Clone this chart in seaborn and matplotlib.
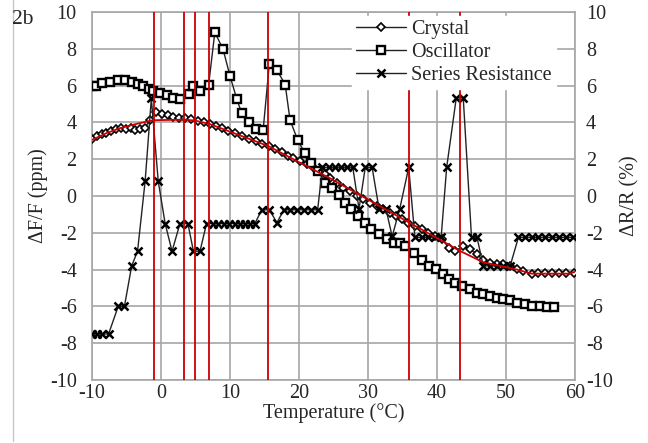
import numpy as np
import pandas as pd
import matplotlib
matplotlib.use("Agg")
import matplotlib.pyplot as plt
from matplotlib.lines import Line2D
import seaborn as sns

# crystal frequency deviation (ppm)
crystal_T = [-10.0, -9.3, -8.6, -7.9, -7.2, -6.5, -5.8, -5.1, -4.4, -3.7, -3.0, -2.3,
             -1.6, -0.7, 0.2, 1.0, 1.8, 2.6, 3.5, 4.4, 5.3, 6.2, 7.1, 8.0, 8.8, 9.7,
             10.7, 11.7, 12.7, 13.7, 14.6, 15.6, 16.5, 17.5, 18.4, 19.2, 20.1, 21.1,
             22.0, 22.8, 23.8, 24.5, 25.5, 26.4, 27.4, 28.4, 29.3, 30.3, 31.3, 32.2,
             33.2, 34.0, 34.9, 35.8, 36.8, 37.8, 38.7, 39.7, 40.7, 41.7, 42.6, 43.8,
             44.8, 45.8, 46.7, 47.7, 48.7, 49.6, 50.6, 51.6, 52.5, 53.7, 54.7, 55.7,
             56.7, 57.7, 58.7, 59.8]
crystal_ppm = [3.10, 3.25, 3.35, 3.45, 3.55, 3.62, 3.70, 3.62, 3.68, 3.58, 3.62, 3.70,
               4.15, 4.55, 4.45, 4.38, 4.30, 4.25, 4.25, 4.17, 4.08, 4.00, 3.92, 3.82,
               3.70, 3.55, 3.40, 3.28, 3.10, 3.00, 2.82, 2.72, 2.55, 2.38, 2.20, 2.08,
               1.92, 1.72, 1.55, 1.38, 1.18, 1.00, 0.70, 0.45, 0.27, 0.02, -0.18, -0.36,
               -0.54, -0.72, -0.90, -1.09, -1.27, -1.45, -1.63, -1.81, -1.99, -2.17,
               -2.35, -2.80, -2.99, -2.72, -2.90, -3.17, -3.50, -3.62, -3.70, -3.72,
               -3.82, -3.99, -4.08, -4.25, -4.17, -4.20, -4.20, -4.20, -4.20, -4.17]

# oscillator frequency deviation (ppm)
osc_T = [-10.0, -9.4, -8.6, -7.4, -6.2, -5.2, -4.2, -3.3, -2.6, -1.8, -1.1, -0.1, 0.8,
         1.8, 2.8, 4.0, 4.7, 5.7, 6.9, 7.8, 9.0, 10.0, 11.0, 11.7, 12.8, 13.8, 14.8,
         15.7, 16.8, 18.0, 18.7, 19.8, 20.8, 21.7, 22.8, 23.8, 24.8, 25.8, 26.7, 27.5,
         28.6, 29.5, 30.5, 31.6, 32.7, 33.7, 34.6, 35.4, 36.6, 37.8, 38.8, 39.8, 40.8,
         41.7, 42.6, 43.6, 44.8, 45.8, 46.7, 47.7, 48.7, 49.6, 50.6, 51.6, 52.8, 53.8,
         54.9, 55.9, 57.0]
osc_ppm = [6.0, 6.0, 6.12, 6.2, 6.3, 6.3, 6.2, 6.07, 5.98, 5.8, 5.7, 5.58, 5.47, 5.34,
           5.25, 5.53, 5.98, 5.7, 6.03, 8.9, 7.97, 6.52, 5.25, 4.5, 4.02, 3.62, 3.57,
           7.19, 6.85, 6.05, 4.13, 3.05, 2.36, 1.81, 1.35, 0.72, 0.45, 0.05, -0.36,
           -0.72, -1.09, -1.45, -1.81, -2.08, -2.35, -2.54, -2.54, -2.72, -3.08, -3.5,
           -3.8, -3.99, -4.26, -4.53, -4.71, -4.89, -5.07, -5.25, -5.34, -5.43, -5.53,
           -5.62, -5.67, -5.8, -5.89, -5.98, -5.98, -6.03, -6.03]

# series resistance deviation (%)
res_T = [-10.0, -9.3, -8.5, -7.6, -6.2, -5.3, -4.25, -3.4, -2.3, -1.4, -0.4, 0.6, 1.6,
         2.75, 3.9, 4.7, 5.65, 6.6, 7.5, 8.3, 9.1, 9.9, 10.7, 11.5, 12.2, 12.9, 13.6,
         14.6, 15.7, 16.8, 17.8, 18.7, 19.7, 20.7, 21.7, 22.7, 23.4, 24.3, 25.2, 26.1,
         27.0, 27.8, 28.7, 29.6, 30.6, 31.6, 32.6, 33.5, 34.6, 35.9, 36.8, 37.8, 38.7,
         39.7, 40.6, 41.4, 42.8, 43.8, 45.0, 45.8, 46.7, 47.7, 48.7, 49.6, 50.6, 51.8,
         52.8, 53.8, 54.7, 55.7, 56.7, 57.7, 58.7, 59.7]
res_pct = [-7.5, -7.5, -7.5, -7.5, -6.0, -6.0, -3.8, -3.0, 0.8, 5.3, 0.8, -1.5, -3.0,
           -1.5, -1.5, -3.0, -3.0, -1.5, -1.5, -1.5, -1.5, -1.5, -1.5, -1.5, -1.5, -1.5,
           -1.5, -0.75, -0.75, -1.45, -0.75, -0.75, -0.75, -0.75, -0.75, -0.75, 1.55,
           1.55, 1.55, 1.55, 1.55, 1.55, -0.7, 1.55, 1.55, -0.7, -0.7, -2.2, -0.7, 1.55,
           -2.25, -2.25, -2.25, -2.25, -2.25, 1.55, 5.35, 5.35, -2.25, -2.25, -3.8, -3.8,
           -3.8, -3.8, -3.8, -2.25, -2.25, -2.25, -2.25, -2.25, -2.25, -2.25, -2.25, -2.25]

# red trend of the crystal curve
fit_T = [-10, -8, -6, -4, -2, -1, 3.4, 4.9, 7, 15.5, 24.5, 36, 43.4, 46.7, 51.6, 53.7, 59.2, 60]
fit_ppm = [3.05, 3.4, 3.68, 3.88, 4.05, 4.12, 4.15, 4.1, 3.92, 2.72, 0.96, -1.45, -3.0,
           -3.6, -4.0, -4.22, -4.22, -4.12]

# red vertical markers
event_T = [-1.0, 3.4, 4.9, 7.0, 15.5, 36.0, 43.4]

FS = 14.5

sns.set_style("white")
plt.rcParams["font.family"] = ["Liberation Serif", "DejaVu Serif"]
plt.rcParams["font.size"] = FS
plt.rcParams["axes.unicode_minus"] = False

fig = plt.figure(figsize=(6.48, 4.43), dpi=100)
ax = fig.add_axes([92 / 648, 1 - 380 / 443, 483 / 648, 368 / 443])

grid_c = "#a6a6a6"
for t in event_T:
    ax.axvline(t, color="#cc0000", lw=1.3, zorder=4)

sns.lineplot(x=crystal_T, y=crystal_ppm, ax=ax, sort=False, estimator=None,
             color="#222222", lw=1, marker="D", ms=4, mfc="white", mec="black",
             mew=1.2, zorder=3, label="Crystal")
sns.lineplot(x=osc_T, y=osc_ppm, ax=ax, sort=False, estimator=None,
             color="#222222", lw=1, marker="s", ms=5.8, mfc="white", mec="black",
             mew=1.7, zorder=3, label="Oscillator")
sns.lineplot(x=res_T, y=res_pct, ax=ax, sort=False, estimator=None,
             color="#222222", lw=1, marker="x", ms=5.5, mec="black",
             mew=1.8, zorder=3, label="Series Resistance")
sns.lineplot(x=fit_T, y=fit_ppm, ax=ax, sort=False, estimator=None,
             color="#cc0000", lw=1.3, zorder=5)

ax.set_xlim(-10, 60)
ax.set_ylim(-10, 10)
ax.set_xticks(range(-10, 61, 10))
ax.set_yticks(range(-10, 11, 2))
ax.grid(True, color=grid_c, lw=1.2)
ax.set_axisbelow(True)
for s in ax.spines.values():
    s.set_color(grid_c)
    s.set_linewidth(1.2)
ax.tick_params(length=0, labelsize=FS)
ax.tick_params(axis="y", pad=11)
ax.tick_params(axis="x", pad=3)
ax.set_xlabel("Temperature (°C)", fontsize=FS, labelpad=0)
ax.set_ylabel("ΔF/F (ppm)", fontsize=FS, labelpad=1)

ax2 = ax.twinx()
ax2.set_ylim(-10, 10)
ax2.set_yticks(range(-10, 11, 2))
ax2.tick_params(length=0, labelsize=FS, pad=8)
for s in ax2.spines.values():
    s.set_visible(False)
ax2.set_ylabel("ΔR/R (%)", fontsize=FS, labelpad=5)

handles, labels = ax.get_legend_handles_labels()
ax.get_legend().remove()
leg = ax2.legend(handles, labels, loc="upper left", bbox_to_anchor=(0.53, 1.0),
                 frameon=True, fancybox=False, framealpha=1, edgecolor="white",
                 fontsize=FS, handlelength=2.5, handletextpad=0.25,
                 labelspacing=0.2, borderpad=0.2, borderaxespad=0.2)

fig.text(12 / 648, 1 - 20 / 443, "2b", fontsize=15.5, va="center", ha="left")
fig.add_artist(Line2D([13 / 648, 13 / 648], [0.005, 1], color="#c8c8c8", lw=1))

fig.savefig("out.png", dpi=100)
